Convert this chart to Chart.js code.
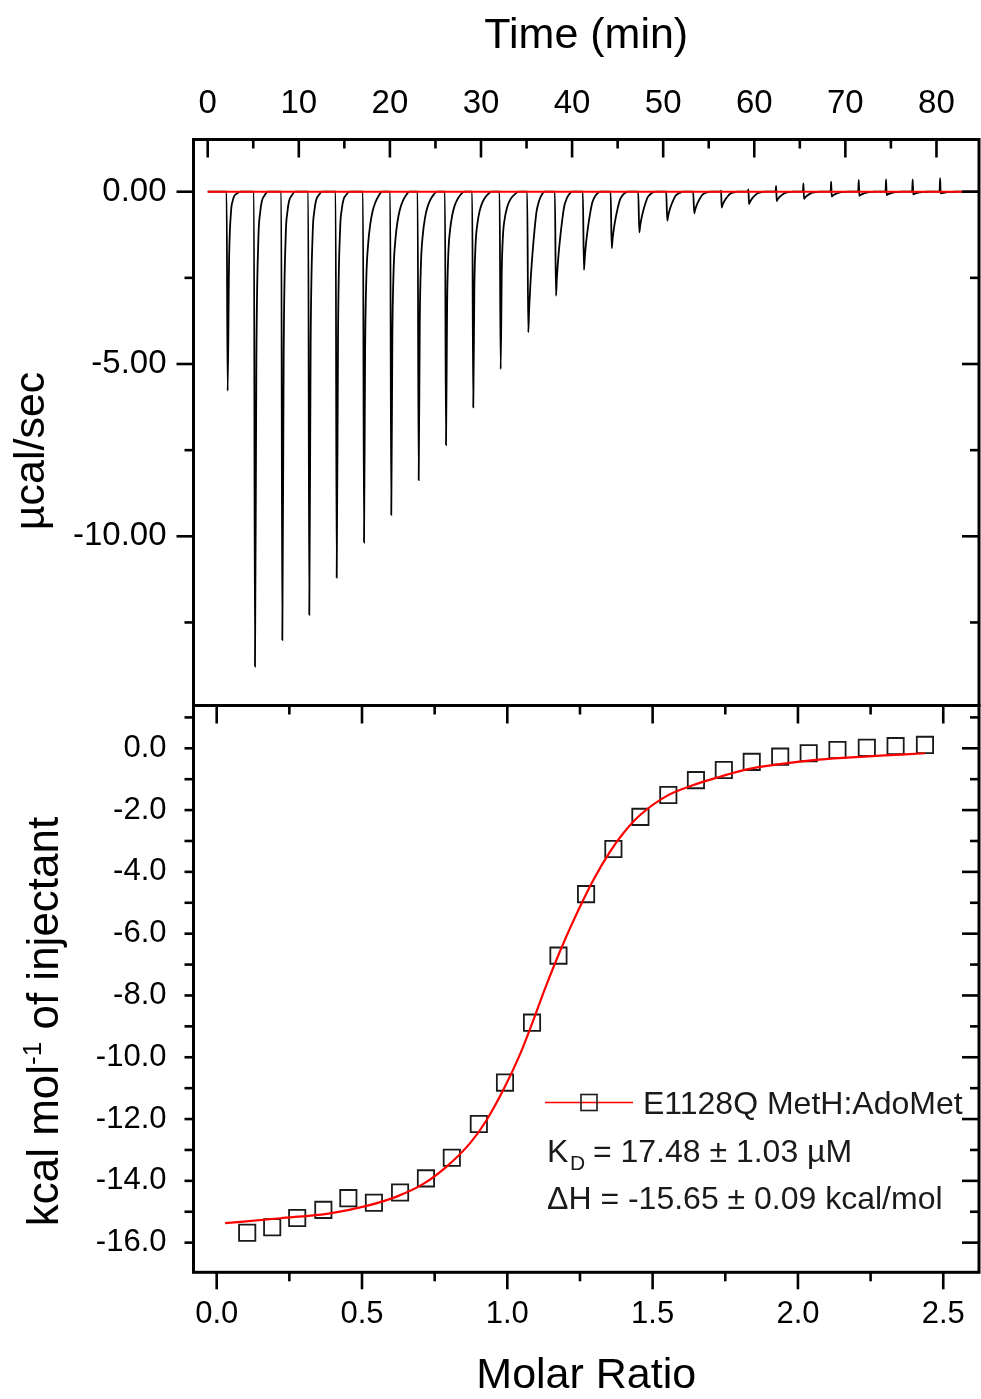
<!DOCTYPE html>
<html>
<head>
<meta charset="utf-8">
<title>ITC E1128Q MetH:AdoMet</title>
<script src="https://cdn.jsdelivr.net/npm/chart.js@4.4.1/dist/chart.umd.min.js"></script>
<style>
  html, body { margin:0; padding:0; background:#ffffff; }
  #wrap { position:relative; width:981px; height:1399px; overflow:hidden; background:#fff; }
  #wrap canvas { position:absolute; left:0; top:0; }
</style>
</head>
<body>
<div id="wrap">
  <canvas id="rawChart" width="981" height="1399"></canvas>
  <canvas id="isoChart" width="981" height="1399"></canvas>
</div>
<script>
// ===== Top panel: raw thermogram (µcal/sec vs time) =====
const peakTimes  = [2.19, 5.19, 8.19, 11.15, 14.16, 17.16, 20.15, 23.16, 26.16, 29.15, 32.16, 35.19, 38.23, 41.30,
                    44.35, 47.38, 50.45, 53.41, 56.42, 59.42, 62.46, 65.46, 68.50, 71.53, 74.53, 77.45, 80.46];
const peakMinima = [-5.78, -13.78, -13.01, -12.28, -11.20, -10.18, -9.38, -8.37, -7.35, -6.26, -5.15, -4.08, -3.02, -2.27,
                    -1.64, -1.18, -0.84, -0.63, -0.46, -0.36, -0.27, -0.21, -0.14, -0.12, -0.10, -0.08, -0.05];
const peakMaxima = [0, 0, 0, 0, 0, 0, 0, 0, 0, 0, 0, 0, 0, 0,
                    0, 0, 0, 0, 0.03, 0.07, 0.17, 0.24, 0.29, 0.34, 0.36, 0.36, 0.39];
const peakShape  = ['sharp','sharp','sharp','sharp','sharp','mid','mid','mid','mid','mid','mid','broad','broad','broad',
                    'broad','broad','broad','broad','broad','broad','broad','broad','broad','broad','broad','broad','broad'];
// recovery profile after the peak minimum (minutes after minimum, fraction of minimum)
const sharpOffsets   = [0.15, 0.37, 0.56, 0.75, 1.05, 1.4];
const sharpFractions = [0.36, 0.10, 0.045, 0.02, 0.008, 0];
const midOffsets     = [0.12, 0.25, 0.45, 0.7, 0.95, 1.25, 1.6, 2.0];
const midFractions   = [0.45, 0.25, 0.15, 0.09, 0.055, 0.03, 0.012, 0];
const broadOffsets   = [0.1, 0.25, 0.44, 0.69, 0.91, 1.1, 1.28, 1.5, 1.75];
const broadFractions = [0.83, 0.64, 0.46, 0.27, 0.14, 0.085, 0.048, 0.02, 0];
const baselineTimes  = [0, 84.7];
const baselineValues = [0, 0];
const timeTicks      = [0, 10, 20, 30, 40, 50, 60, 70, 80];
const timeMinorTicks = [5, 15, 25, 35, 45, 55, 65, 75];
const rawTicks       = [0, -5, -10];
const rawMinorTicks  = [-2.5, -7.5, -12.5];

// ===== Bottom panel: integrated heats vs molar ratio =====
const molarRatio = [0.105, 0.191, 0.277, 0.367, 0.453, 0.541, 0.631, 0.720, 0.809, 0.902, 0.992, 1.085, 1.176,
                    1.271, 1.365, 1.458, 1.554, 1.649, 1.745, 1.841, 1.939, 2.037, 2.136, 2.237, 2.336, 2.437];
const heatPerMol = [-15.68, -15.50, -15.20, -14.94, -14.56, -14.71, -14.38, -13.92, -13.25, -12.16, -10.82, -8.88, -6.71,
                    -4.72, -3.26, -2.22, -1.51, -1.03, -0.70, -0.44, -0.27, -0.16, -0.055, 0.02, 0.07, 0.11];
const fitRatio = [0.029, 0.218, 0.39, 0.516, 0.619, 0.711, 0.791, 0.872, 0.929, 0.992, 1.044, 1.090, 1.130, 1.193,
                  1.25, 1.296, 1.353, 1.399, 1.457, 1.549, 1.640, 1.732, 1.824, 1.938, 2.053, 2.168, 2.283, 2.437];
const fitHeat  = [-15.37, -15.21, -15.05, -14.81, -14.51, -14.10, -13.54, -12.78, -12.03, -10.95, -9.90, -8.79, -7.77, -6.31,
                  -5.13, -4.26, -3.35, -2.75, -2.16, -1.54, -1.19, -0.92, -0.68, -0.51, -0.38, -0.30, -0.24, -0.16];
const ratioTicks      = [0, 0.5, 1.0, 1.5, 2.0, 2.5];
const ratioMinorTicks = [0.25, 0.75, 1.25, 1.75, 2.25];
const heatTicks       = [0, -2, -4, -6, -8, -10, -12, -14, -16];
const heatMinorTicks  = [1, -1, -3, -5, -7, -9, -11, -13, -15];
const seriesLabel = 'E1128Q MetH:AdoMet';
const kdValue = ' = 17.48 ± 1.03 µM';
const dhText  = 'ΔH = -15.65 ± 0.09 kcal/mol';

// ----- build chart data from the arrays -----
const templates = {
  sharp: [sharpOffsets, sharpFractions],
  mid:   [midOffsets, midFractions],
  broad: [broadOffsets, broadFractions]
};
const traceData = [{x: 0, y: 0}];
peakTimes.forEach((t, i) => {
  const [offs, fr] = templates[peakShape[i]];
  traceData.push({x: t - 0.12, y: 0});
  if (peakMaxima[i] !== 0) traceData.push({x: t - 0.06, y: peakMaxima[i]});
  traceData.push({x: t, y: peakMinima[i]});
  offs.forEach((o, k) => traceData.push({x: t + o, y: peakMinima[i] * fr[k]}));
});
traceData.push({x: 84.7, y: 0});
const baselineData = baselineTimes.map((t, i) => ({x: t, y: baselineValues[i]}));
const pointsData = molarRatio.map((r, i) => ({x: r, y: heatPerMol[i]}));
const fitData = fitRatio.map((r, i) => ({x: r, y: fitHeat[i]}));

const FONT = "'Liberation Sans', Arial, Helvetica, sans-serif";
Chart.defaults.font.family = FONT;
Chart.defaults.color = '#000';

const noPad = s => { s.paddingLeft = 0; s.paddingRight = 0; s.paddingTop = 0; s.paddingBottom = 0; };

// ----- frame and tick-mark plugin (positions from the chart scales) -----
const framePlugin = {
  id: 'frame',
  afterDatasetsDraw(chart, args, o) {
    const {ctx, chartArea: a} = chart;
    const xs = chart.scales.x, ys = chart.scales.y;
    ctx.save();
    ctx.strokeStyle = '#000';
    ctx.lineCap = 'butt';
    const seg = (x1, y1, x2, y2) => { ctx.beginPath(); ctx.moveTo(x1, y1); ctx.lineTo(x2, y2); ctx.stroke(); };
    ctx.lineWidth = 2.6;
    (o.sides || []).forEach(side => {
      const isX = side.edge === 'top' || side.edge === 'bottom';
      const sc = isX ? xs : ys;
      const edgePos = a[side.edge];
      const sign = (side.edge === 'top' || side.edge === 'left') ? 1 : -1;
      const dir = side.inward ? sign : -sign;
      [[side.major, side.majorLen], [side.minor, side.minorLen]].forEach(([vals, len]) => {
        vals.forEach(v => {
          const p = sc.getPixelForValue(v);
          if (isX) seg(p, edgePos, p, edgePos + dir * len);
          else seg(edgePos, p, edgePos + dir * len, p);
        });
      });
    });
    ctx.lineWidth = 3;
    ctx.strokeRect(a.left, a.top, a.right - a.left, a.bottom - a.top);
    ctx.restore();
  }
};

// ----- top chart -----
const rawTitlePlugin = {
  id: 'rawTitle',
  afterDraw(chart) {
    const ctx = chart.ctx;
    ctx.save();
    ctx.fillStyle = '#000';
    ctx.font = '43px ' + FONT;
    ctx.textAlign = 'center';
    ctx.textBaseline = 'alphabetic';
    ctx.translate(44, 451);
    ctx.rotate(-Math.PI / 2);
    ctx.fillText('µcal/sec', 0, 0);
    ctx.restore();
  }
};

new Chart(document.getElementById('rawChart'), {
  type: 'scatter',
  data: {
    datasets: [
      { data: baselineData, showLine: true, borderColor: '#ff0000', borderWidth: 2, pointRadius: 0, order: 0 },
      { data: traceData, showLine: true, borderColor: '#000000', borderWidth: 1.8, pointRadius: 0,
        cubicInterpolationMode: 'monotone', order: 1 }
    ]
  },
  options: {
    responsive: false, animation: false, devicePixelRatio: 1,
    layout: { autoPadding: false, padding: { left: 0, top: 0, right: 2, bottom: 1399 - 705.5 } },
    plugins: {
      legend: { display: false }, tooltip: { enabled: false },
      frame: { sides: [
        { edge: 'top', inward: true, major: timeTicks, minor: timeMinorTicks, majorLen: 18, minorLen: 9 },
        { edge: 'left', inward: false, major: rawTicks, minor: rawMinorTicks, majorLen: 17, minorLen: 9 },
        { edge: 'right', inward: true, major: rawTicks, minor: rawMinorTicks, majorLen: 17, minorLen: 9 }
      ] }
    },
    scales: {
      x: {
        type: 'linear', position: 'top', min: -1.56, max: 84.67,
        grid: { display: false, drawTicks: false }, border: { display: false },
        ticks: { font: { size: 33 }, color: '#000', padding: 16, maxRotation: 0, autoSkip: false,
                 callback: v => String(v) },
        afterBuildTicks: s => { s.ticks = timeTicks.map(v => ({ value: v })); },
        afterFit: s => { s.height = 139.5; noPad(s); },
        title: { display: true, text: 'Time (min)', color: '#000', font: { size: 43, lineHeight: 1 },
                 padding: { top: 15, bottom: 0 } }
      },
      y: {
        type: 'linear', position: 'left', min: -14.91, max: 1.515,
        grid: { display: false, drawTicks: false }, border: { display: false },
        ticks: { font: { size: 33 }, color: '#000', padding: 27, autoSkip: false,
                 callback: v => Number(v).toFixed(2) },
        afterBuildTicks: s => { s.ticks = rawTicks.map(v => ({ value: v })); },
        afterFit: s => { s.width = 193.5; noPad(s); }
      }
    }
  },
  plugins: [framePlugin, rawTitlePlugin]
});

// ----- bottom chart -----
const isoAnnotPlugin = {
  id: 'isoAnnot',
  afterDraw(chart) {
    const ctx = chart.ctx;
    ctx.save();
    // y-axis title with superscript
    ctx.fillStyle = '#000';
    ctx.textBaseline = 'alphabetic';
    ctx.textAlign = 'left';
    const big = '44px ' + FONT, small = '26px ' + FONT;
    ctx.font = big; const w1 = ctx.measureText('kcal mol').width;
    ctx.font = small; const w2 = ctx.measureText('-1').width;
    ctx.font = big; const w3 = ctx.measureText(' of injectant').width;
    const total = w1 + w2 + w3;
    ctx.translate(58, 1021.5);
    ctx.rotate(-Math.PI / 2);
    let sx = -total / 2;
    ctx.font = big; ctx.fillText('kcal mol', sx, 0); sx += w1;
    ctx.font = small; ctx.fillText('-1', sx, -17); sx += w2;
    ctx.font = big; ctx.fillText(' of injectant', sx, 0);
    ctx.restore();

    // legend
    ctx.save();
    ctx.strokeStyle = '#ff0000'; ctx.lineWidth = 1.6;
    ctx.beginPath(); ctx.moveTo(545, 1102.5); ctx.lineTo(633, 1102.5); ctx.stroke();
    ctx.strokeStyle = '#1a1a1a'; ctx.lineWidth = 1.6;
    ctx.strokeRect(581, 1094.5, 16, 16);
    ctx.fillStyle = '#1a1a1a';
    ctx.textAlign = 'left'; ctx.textBaseline = 'alphabetic';
    ctx.font = '32px ' + FONT;
    ctx.fillText(seriesLabel, 643, 1113.5);
    ctx.font = '32px ' + FONT;
    ctx.fillText('K', 547, 1162);
    ctx.font = '21px ' + FONT;
    ctx.fillText('D', 570, 1170);
    ctx.font = '32px ' + FONT;
    ctx.fillText(kdValue, 584, 1162);
    ctx.fillText(dhText, 547, 1208.5);
    ctx.restore();
  }
};

new Chart(document.getElementById('isoChart'), {
  type: 'scatter',
  data: {
    datasets: [
      { data: fitData, showLine: true, borderColor: '#ff0000', borderWidth: 2.2, pointRadius: 0,
        cubicInterpolationMode: 'monotone', order: 0 },
      { data: pointsData, showLine: false, pointStyle: 'rect', pointRadius: 11.5,
        pointBorderColor: '#1a1a1a', pointBackgroundColor: 'rgba(0,0,0,0)', pointBorderWidth: 1.8, order: 1 }
    ]
  },
  options: {
    responsive: false, animation: false, devicePixelRatio: 1,
    layout: { autoPadding: false, padding: { left: 0, top: 705.5, right: 2, bottom: 0 } },
    plugins: {
      legend: { display: false }, tooltip: { enabled: false },
      frame: { sides: [
        { edge: 'top', inward: true, major: ratioTicks, minor: ratioMinorTicks, majorLen: 18, minorLen: 9 },
        { edge: 'bottom', inward: false, major: ratioTicks, minor: ratioMinorTicks, majorLen: 17, minorLen: 9 },
        { edge: 'left', inward: false, major: heatTicks, minor: heatMinorTicks, majorLen: 9, minorLen: 9 },
        { edge: 'right', inward: true, major: heatTicks, minor: heatMinorTicks, majorLen: 17, minorLen: 9 }
      ] }
    },
    scales: {
      x: {
        type: 'linear', position: 'bottom', min: -0.0798, max: 2.623,
        grid: { display: false, drawTicks: false }, border: { display: false },
        ticks: { font: { size: 31 }, color: '#000', padding: 24, maxRotation: 0, autoSkip: false,
                 callback: v => Number(v).toFixed(1) },
        afterBuildTicks: s => { s.ticks = ratioTicks.map(v => ({ value: v })); },
        afterFit: s => { s.height = 1399 - 1272.3; noPad(s); },
        title: { display: true, text: 'Molar Ratio', color: '#000', font: { size: 43, lineHeight: 1 },
                 padding: { top: 0, bottom: 1 } }
      },
      y: {
        type: 'linear', position: 'left', min: -16.96, max: 1.385,
        grid: { display: false, drawTicks: false }, border: { display: false },
        ticks: { font: { size: 31 }, color: '#000', padding: 27, autoSkip: false,
                 callback: v => Number(v).toFixed(1) },
        afterBuildTicks: s => { s.ticks = heatTicks.map(v => ({ value: v })); },
        afterFit: s => { s.width = 193.5; noPad(s); }
      }
    }
  },
  plugins: [framePlugin, isoAnnotPlugin]
});
</script>
</body>
</html>
